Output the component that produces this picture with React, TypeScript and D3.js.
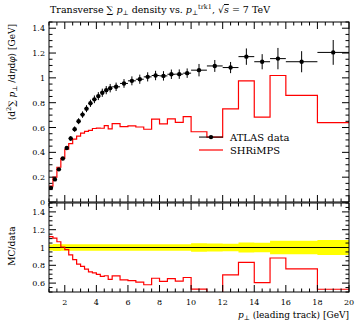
import React from 'react';
import * as d3 from 'd3';

const binEdges = [1, 1.25, 1.5, 1.75, 2, 2.25, 2.5, 2.75, 3, 3.25, 3.5, 3.75, 4, 4.25, 4.5, 4.75, 5,
  5.5, 6, 6.5, 7, 7.5, 8, 8.5, 9, 9.5, 10, 11, 12, 13, 14, 15, 16, 18, 20];
const dataValues = [0.114, 0.182, 0.263, 0.35, 0.435, 0.512, 0.587, 0.651, 0.704, 0.752, 0.795, 0.827, 0.853, 0.88, 0.901, 0.917,
  0.928, 0.955, 0.976, 0.989, 1.008, 1.019, 1.016, 1.029, 1.03, 1.038, 1.062, 1.096, 1.083, 1.171, 1.13, 1.155, 1.13, 1.205];
const dataErrors = [0.004, 0.007, 0.01, 0.013, 0.016, 0.019, 0.022, 0.024, 0.026, 0.028, 0.029, 0.031, 0.032, 0.033, 0.033, 0.034,
  0.034, 0.035, 0.036, 0.037, 0.037, 0.038, 0.038, 0.038, 0.038, 0.038, 0.05, 0.048, 0.045, 0.066, 0.061, 0.086, 0.085, 0.1];
const mcValues = [0.128, 0.201, 0.28, 0.352, 0.425, 0.47, 0.507, 0.53, 0.555, 0.569, 0.577, 0.592, 0.595, 0.594, 0.615, 0.589,
  0.632, 0.607, 0.613, 0.604, 0.586, 0.667, 0.629, 0.67, 0.642, 0.688, 0.566, 0.523, 0.75, 0.976, 0.683, 1.019, 0.859, 0.64];
const xTicks = [2, 4, 6, 8, 10, 12, 14, 16, 18, 20];
const mainYTicks = [0, 0.2, 0.4, 0.6, 0.8, 1, 1.2, 1.4];
const ratioYTicks = [0.6, 0.8, 1, 1.2, 1.4];

const L = 49, R = 349, T = 22, MB = 202, RT = 203, RB = 292;
const FONT = "'DejaVu Serif', 'Liberation Serif', serif";

export default function App() {
  const x = d3.scaleLinear().domain([1, 20]).range([L, R]);
  const y = d3.scaleLinear().domain([0, 1.45]).range([MB, T]);
  const yr = d3.scaleLinear().domain([0.5, 1.5]).range([RB, RT]);

  const bins = dataValues.map((v, i) => ({ lo: binEdges[i], hi: binEdges[i + 1], v, e: dataErrors[i], mc: mcValues[i] }));

  const stepPts = (vals: number[]) => {
    const pts: [number, number][] = [];
    vals.forEach((v, i) => { pts.push([binEdges[i], v]); pts.push([binEdges[i + 1], v]); });
    return pts;
  };
  const mainLine = d3.line<[number, number]>().x(d => x(d[0])).y(d => y(d[1]));
  const ratioLine = d3.line<[number, number]>().x(d => x(d[0])).y(d => yr(d[1]));
  const mcPath = mainLine(stepPts(mcValues)) || '';
  const ratioPath = ratioLine(stepPts(bins.map(b => b.mc / b.v))) || '';

  const bandArea = d3.area<[number, number, number]>().x(d => x(d[0])).y0(d => yr(1 - d[1])).y1(d => yr(1 + d[2]));
  const bandPts: [number, number, number][] = [];
  bins.forEach(b => { const r = b.e / b.v; bandPts.push([b.lo, r, r]); bandPts.push([b.hi, r, r]); });
  const bandPath = bandArea(bandPts) || '';

  const xMinor = d3.range(1, 20.001, 0.5);
  const mainMinor = d3.range(0, 1.451, 0.05);
  const ratioMinor = d3.range(0.5, 1.501, 0.05);

  const ticks: JSX.Element[] = [];
  let k = 0;
  const isMajor = (v: number, arr: number[]) => arr.some(t => Math.abs(t - v) < 1e-6);
  xMinor.forEach(v => {
    const len = isMajor(v, xTicks) ? 7 : 3.5;
    const xx = x(v);
    [[T, 1], [MB, -1], [RT, 1], [RB, -1]].forEach(([yy, dir]) => {
      ticks.push(<line key={k++} x1={xx} x2={xx} y1={yy} y2={yy + dir * len} stroke="#000" strokeWidth={1} />);
    });
  });
  mainMinor.forEach(v => {
    const len = isMajor(v, mainYTicks) ? 7 : 3.5;
    const yy = y(v);
    ticks.push(<line key={k++} x1={L} x2={L + len} y1={yy} y2={yy} stroke="#000" strokeWidth={1} />);
    ticks.push(<line key={k++} x1={R} x2={R - len} y1={yy} y2={yy} stroke="#000" strokeWidth={1} />);
  });
  ratioMinor.forEach(v => {
    const len = isMajor(v, ratioYTicks) ? 7 : 3.5;
    const yy = yr(v);
    ticks.push(<line key={k++} x1={L} x2={L + len} y1={yy} y2={yy} stroke="#000" strokeWidth={1} />);
    ticks.push(<line key={k++} x1={R} x2={R - len} y1={yy} y2={yy} stroke="#000" strokeWidth={1} />);
  });

  return (
    <svg width={355} height={321} style={{ position: 'absolute', left: 0, top: 0, background: '#fff', fontFamily: FONT }}>
      <defs>
        <clipPath id="mainClip"><rect x={L} y={T} width={R - L} height={MB - T} /></clipPath>
        <clipPath id="ratioClip"><rect x={L} y={RT} width={R - L} height={RB - RT} /></clipPath>
      </defs>
      <rect width={355} height={321} fill="#fff" />

      {/* title */}
      <text x={50} y={13} fontSize={9.5} style={{ fontFamily: FONT }}>
        Transverse ∑ <tspan fontStyle="italic">p</tspan><tspan fontSize={6.5} dy={2}>⊥</tspan>
        <tspan dy={-2}> density vs. </tspan><tspan fontStyle="italic">p</tspan>
        <tspan fontSize={6.5} dy={2}>⊥</tspan><tspan fontSize={6.5} dy={-6}>trk1</tspan>
        <tspan dy={4}>, √</tspan><tspan fontStyle="italic" style={{ textDecoration: 'overline' }}>s</tspan>
        <tspan> = 7 TeV</tspan>
      </text>

      {/* main panel */}
      <g clipPath="url(#mainClip)">
        <path d={mcPath} fill="none" stroke="#ff0000" strokeWidth={1.2} />
        {bins.map((b, i) => (
          <g key={i}>
            <line x1={x(b.lo)} x2={x(b.hi)} y1={y(b.v)} y2={y(b.v)} stroke="#000" strokeWidth={1} />
            <line x1={x((b.lo + b.hi) / 2)} x2={x((b.lo + b.hi) / 2)} y1={y(b.v - b.e)} y2={y(b.v + b.e)} stroke="#000" strokeWidth={1} />
            <circle cx={x((b.lo + b.hi) / 2)} cy={y(b.v)} r={2.2} fill="#000" />
          </g>
        ))}
      </g>

      {/* legend */}
      <line x1={199} x2={223} y1={y(0.523)} y2={y(0.523)} stroke="#000" strokeWidth={1} />
      <circle cx={211} cy={y(0.523)} r={2.2} fill="#000" />
      <text x={230} y={y(0.523) + 3.5} fontSize={10} style={{ fontFamily: FONT }}>ATLAS data</text>
      <line x1={199} x2={223} y1={150} y2={150} stroke="#ff0000" strokeWidth={1.2} />
      <text x={230} y={153.5} fontSize={10} style={{ fontFamily: FONT }}>SHRiMPS</text>

      {/* ratio panel */}
      <g clipPath="url(#ratioClip)">
        <path d={bandPath} fill="#ffff00" stroke="none" />
        <line x1={L} x2={R} y1={yr(1)} y2={yr(1)} stroke="#000" strokeWidth={1} />
        <path d={ratioPath} fill="none" stroke="#ff0000" strokeWidth={1.2} />
      </g>

      {/* frames */}
      <rect x={L} y={T} width={R - L} height={MB - T} fill="none" stroke="#000" strokeWidth={1} />
      <rect x={L} y={RT} width={R - L} height={RB - RT} fill="none" stroke="#000" strokeWidth={1} />
      {ticks}

      {/* tick labels */}
      {mainYTicks.map(v => (
        <text key={'m' + v} x={45} y={y(v) + 3} fontSize={8} textAnchor="end" style={{ fontFamily: FONT }}>{v}</text>
      ))}
      {ratioYTicks.map(v => (
        <text key={'r' + v} x={45} y={yr(v) + 3} fontSize={8} textAnchor="end" style={{ fontFamily: FONT }}>{v}</text>
      ))}
      {xTicks.map(v => (
        <text key={'x' + v} x={x(v)} y={305} fontSize={8} textAnchor="middle" style={{ fontFamily: FONT }}>{v}</text>
      ))}

      {/* axis labels */}
      <text x={R} y={318} fontSize={9} textAnchor="end" style={{ fontFamily: FONT }}>
        <tspan fontStyle="italic">p</tspan><tspan fontSize={6.5} dy={2}>⊥</tspan><tspan dy={-2}> (leading track) [GeV]</tspan>
      </text>
      <text transform={`translate(15, 24) rotate(-90)`} fontSize={9} textAnchor="end" style={{ fontFamily: FONT }}>
        ⟨d<tspan fontSize={6.5} dy={-4}>2</tspan><tspan dy={4}>∑ </tspan><tspan fontStyle="italic">p</tspan><tspan fontSize={6.5} dy={2}>⊥</tspan><tspan dy={-2}> /d</tspan><tspan fontStyle="italic">η</tspan>d<tspan fontStyle="italic">φ</tspan>⟩ [GeV]
      </text>
      <text transform={`translate(15, 246) rotate(-90)`} fontSize={9} textAnchor="middle" style={{ fontFamily: FONT }}>MC/data</text>
    </svg>
  );
}
